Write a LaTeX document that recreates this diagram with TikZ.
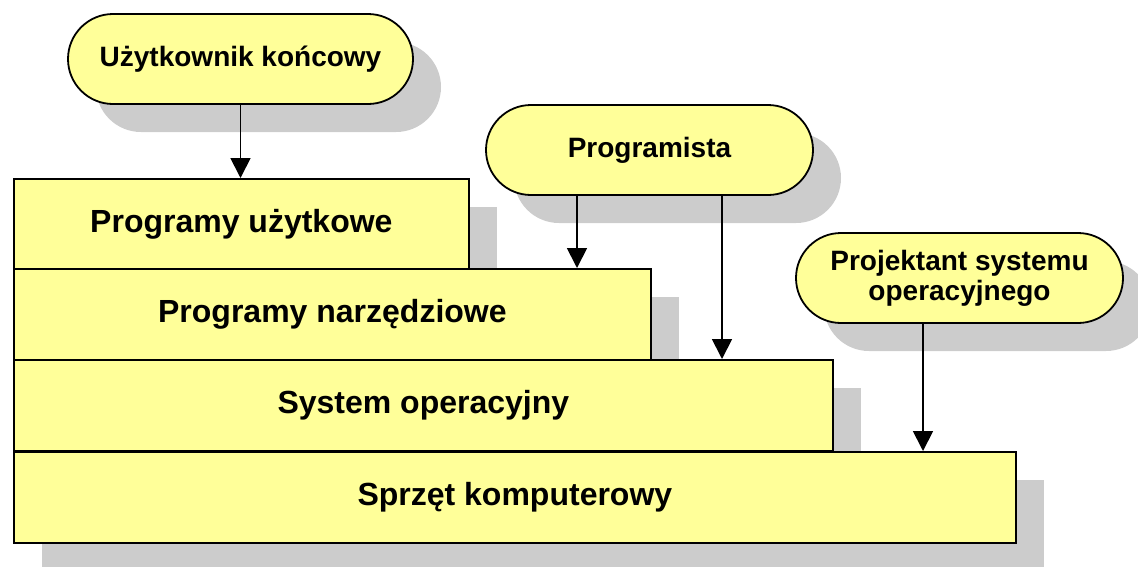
\documentclass[tikz,border=0pt]{standalone}
\usepackage{fontspec}
\setmainfont{Liberation Sans}
\usetikzlibrary{shadows,arrows.meta}
\definecolor{boxfill}{HTML}{FFFF99}
\definecolor{shadowgray}{HTML}{CCCCCC}
\tikzset{
  shad/.style={drop shadow={shadow xshift=28pt,shadow yshift=-28pt,fill=shadowgray,opacity=1}},
  layer/.style={shad,draw=black,line width=1.8pt,fill=boxfill,rectangle,anchor=north west,inner sep=0pt,
     font=\fontsize{32}{36}\selectfont\bfseries,align=center,minimum height=91pt},
  actor/.style={shad,draw=black,line width=1.8pt,fill=boxfill,rectangle,rounded corners=45pt,inner sep=0pt,
     minimum width=327pt,minimum height=90pt,font=\fontsize{28}{32}\selectfont\bfseries,align=center},
  arr/.style={-{Triangle[width=20pt,length=20pt]},line width=1.8pt}
}
\begin{document}
\begin{tikzpicture}[x=1pt,y=-1pt]
\useasboundingbox (0,0) rectangle (1138,566);
\node[layer,minimum width=455pt] (r1) at (13,178) {Programy użytkowe};
\node[layer,minimum width=637pt] (r2) at (13,268) {Programy narzędziowe};
\node[layer,minimum width=819pt] (r3) at (13,359) {System operacyjny};
\node[layer,minimum width=1002pt] (r4) at (13,451) {Sprzęt komputerowy};
\node[actor,minimum width=345pt] (user) at (240.5,59) {Użytkownik końcowy};
\node[actor] (prog) at (649.5,150) {Programista};
\node[actor] (proj) at (959.5,278) {Projektant systemu\\[-2pt]operacyjnego};
\coordinate (a1) at (577,0);
\coordinate (a2) at (722,0);
\coordinate (a3) at (923,0);
\draw[arr] (user.south) -- (user.south |- r1.north);
\draw[arr] (prog.south -| a1) -- (r2.north -| a1);
\draw[arr] (prog.south -| a2) -- (r3.north -| a2);
\draw[arr] (proj.south -| a3) -- (r4.north -| a3);
\end{tikzpicture}
\end{document}
